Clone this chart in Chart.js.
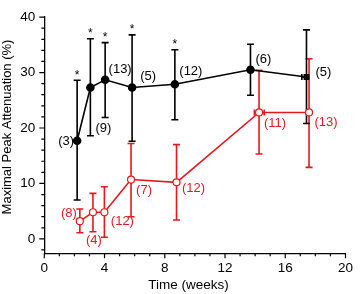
<!DOCTYPE html>
<html>
<head>
<meta charset="utf-8">
<script src="https://cdn.jsdelivr.net/npm/chart.js@4.4.1/dist/chart.umd.min.js"></script>
<style>
  html, body { margin: 0; padding: 0; background: #fff; }
  #wrap { width: 360px; height: 294px; position: relative; }
</style>
</head>
<body>
<div id="wrap"><canvas id="myChart"></canvas></div>
<script>
// ---- datos ----
// serie negra (relleno)
const blackX  = [2.18, 3.06, 4.04, 5.83, 8.67, 13.69, 17.41];
const blackY  = [17.7, 27.3, 28.7, 27.3, 27.9, 30.5, 29.2];
const blackHi = [28.6, 36.1, 35.4, 36.8, 34.1, 35.1, 37.7];
const blackLo = [7.0, 18.6, 21.9, 17.6, 21.5, 25.9, 20.8];
const blackN  = ["(3)", "(9)", "(13)", "(5)", "(12)", "(6)", "(5)"];
const blackStar = [true, true, true, true, true, false, false];

// serie roja (abierta)
const redX  = [2.36, 3.23, 3.99, 5.76, 8.78, 14.26, 17.58];
const redY  = [3.2, 4.8, 4.8, 10.7, 10.2, 22.8, 22.8];
const redHi = [5.4, 8.2, 9.4, 17.2, 17.0, 30.4, 32.5];
const redLo = [1.1, 1.3, 0.3, 4.0, 3.4, 15.3, 12.9];
const redN  = ["(8)", "(4)", "(12)", "(7)", "(12)", "(11)", "(13)"];

// barras horizontales pequeñas
const blackXErr = [null, null, null, null, null, null, [17.1, 17.41]];
const redXErr   = [null, null, null, null, null, [13.95, 14.6], null];

const xTicks = [0, 4, 8, 12, 16, 20];
const yTicks = [0, 10, 20, 30, 40];

const xTitle = "Time (weeks)";
const yTitle = "Maximal Peak Attenuation (%)";

// desplazamiento de las etiquetas (px)
const blackLabelOff = [[-11, 1], [13, 41], [15, -10], [16, -11], [16, -13], [13, -10], [17, -5]];
const redLabelOff   = [[-11, -8], [1, 28], [18, 9], [13, 11], [17, 6], [16, 11], [17, 10]];

const RED = "#e3191f";
const RED_TXT = "#d71f26";
const FONT = "'Liberation Sans', Arial, sans-serif";

const toPts = (xs, ys) => xs.map((x, i) => ({ x: x, y: ys[i] }));

const errorBars = {
  id: "errorBars",
  beforeDatasetsDraw(chart) {
    const ctx = chart.ctx;
    const xs = chart.scales.x, ys = chart.scales.y;
    const drawSet = (X, Y, hi, lo, xerr, color, cap) => {
      ctx.save();
      ctx.strokeStyle = color;
      ctx.lineWidth = 1.6;
      X.forEach((x, i) => {
        const px = xs.getPixelForValue(x);
        const pHi = ys.getPixelForValue(hi[i]);
        const pLo = ys.getPixelForValue(lo[i]);
        ctx.beginPath();
        ctx.moveTo(px, pHi); ctx.lineTo(px, pLo);
        ctx.moveTo(px - cap, pHi); ctx.lineTo(px + cap, pHi);
        ctx.moveTo(px - cap, pLo); ctx.lineTo(px + cap, pLo);
        ctx.stroke();
        if (xerr[i]) {
          const py = ys.getPixelForValue(Y[i]);
          const a = xs.getPixelForValue(xerr[i][0]);
          const b = xs.getPixelForValue(xerr[i][1]);
          ctx.beginPath();
          ctx.moveTo(a, py); ctx.lineTo(b, py);
          ctx.moveTo(a, py - 3); ctx.lineTo(a, py + 3);
          ctx.moveTo(b, py - 3); ctx.lineTo(b, py + 3);
          ctx.stroke();
        }
      });
      ctx.restore();
    };
    drawSet(redX, redY, redHi, redLo, redXErr, RED, 3.5);
    drawSet(blackX, blackY, blackHi, blackLo, blackXErr, "#000", 3.5);
  },
  afterDatasetsDraw(chart) {
    const ctx = chart.ctx;
    const xs = chart.scales.x, ys = chart.scales.y;
    ctx.save();
    ctx.textAlign = "center";
    ctx.textBaseline = "middle";
    ctx.font = "13px " + FONT;
    ctx.fillStyle = "#000";
    blackX.forEach((x, i) => {
      const px = xs.getPixelForValue(x), py = ys.getPixelForValue(blackY[i]);
      ctx.fillText(blackN[i], px + blackLabelOff[i][0], py + blackLabelOff[i][1]);
    });
    ctx.fillStyle = RED_TXT;
    redX.forEach((x, i) => {
      const px = xs.getPixelForValue(x), py = ys.getPixelForValue(redY[i]);
      ctx.fillText(redN[i], px + redLabelOff[i][0], py + redLabelOff[i][1]);
    });
    // asteriscos
    ctx.fillStyle = "#000";
    ctx.font = "12px " + FONT;
    blackX.forEach((x, i) => {
      if (!blackStar[i]) return;
      const px = xs.getPixelForValue(x), py = ys.getPixelForValue(blackHi[i]);
      ctx.fillText("*", px, py - 5);
    });

    // marcas de los ejes (mayores y menores)
    ctx.strokeStyle = "#000";
    ctx.lineWidth = 1.2;
    const area = chart.chartArea;
    ctx.beginPath();
    for (let v = 0; v <= 20; v += 1) {
      const p = xs.getPixelForValue(v);
      const len = v % 4 === 0 ? 5 : 3;
      ctx.moveTo(p, area.bottom); ctx.lineTo(p, area.bottom + len);
    }
    for (let v = -2; v <= 40; v += 2) {
      const p = ys.getPixelForValue(v);
      const len = v % 10 === 0 ? 5 : 3;
      ctx.moveTo(area.left, p); ctx.lineTo(area.left - len, p);
    }
    ctx.stroke();

    // titulos de los ejes
    ctx.fillStyle = "#000";
    ctx.font = "13.5px " + FONT;
    ctx.fillText(xTitle, 188.5, 285);
    ctx.translate(7.5, 127);
    ctx.rotate(-Math.PI / 2);
    ctx.font = "13px " + FONT;
    ctx.fillText(yTitle, 0, 0);
    ctx.restore();
  }
};

const graph = document.querySelector("#myChart");

new Chart(graph, {
  type: "scatter",
  data: {
    datasets: [
      {
        label: "open",
        data: toPts(redX, redY),
        showLine: true,
        borderColor: RED,
        borderWidth: 1.6,
        pointBackgroundColor: "#fff",
        pointBorderColor: RED,
        pointBorderWidth: 1.2,
        pointRadius: 3.5,
      },
      {
        label: "filled",
        data: toPts(blackX, blackY),
        showLine: true,
        borderColor: "#000",
        borderWidth: 1.6,
        pointBackgroundColor: "#000",
        pointBorderColor: "#000",
        pointRadius: [3.5, 3.5, 3.5, 3.5, 3.5, 3.5, 3],
        pointStyle: ["circle", "circle", "circle", "circle", "circle", "circle", "rect"],
      },
    ],
  },
  options: {
    responsive: true,
    maintainAspectRatio: false,
    animation: false,
    layout: { padding: { top: 7.9, right: 10.3, left: 0, bottom: 0 } },
    plugins: { legend: { display: false }, tooltip: { enabled: false } },
    scales: {
      x: {
        type: "linear",
        min: 0,
        max: 20,
        afterBuildTicks: (s) => { s.ticks = xTicks.map(v => ({ value: v })); },
        afterFit: (s) => { s.height = 40.7; },
        grid: { display: false, drawTicks: false },
        border: { display: true, color: "#000", width: 1.3 },
        ticks: { color: "#000", font: { size: 13.5, family: FONT }, padding: 7, maxRotation: 0 },
        title: { display: false },
      },
      y: {
        type: "linear",
        min: -2.6,
        max: 40,
        afterBuildTicks: (s) => { s.ticks = yTicks.map(v => ({ value: v })); },
        afterFit: (s) => { s.width = 44.3; },
        grid: { display: false, drawTicks: false },
        border: { display: true, color: "#000", width: 1.3 },
        ticks: { color: "#000", font: { size: 13.5, family: FONT }, padding: 9 },
        title: { display: false },
      },
    },
  },
  plugins: [errorBars],
});
</script>
</body>
</html>
